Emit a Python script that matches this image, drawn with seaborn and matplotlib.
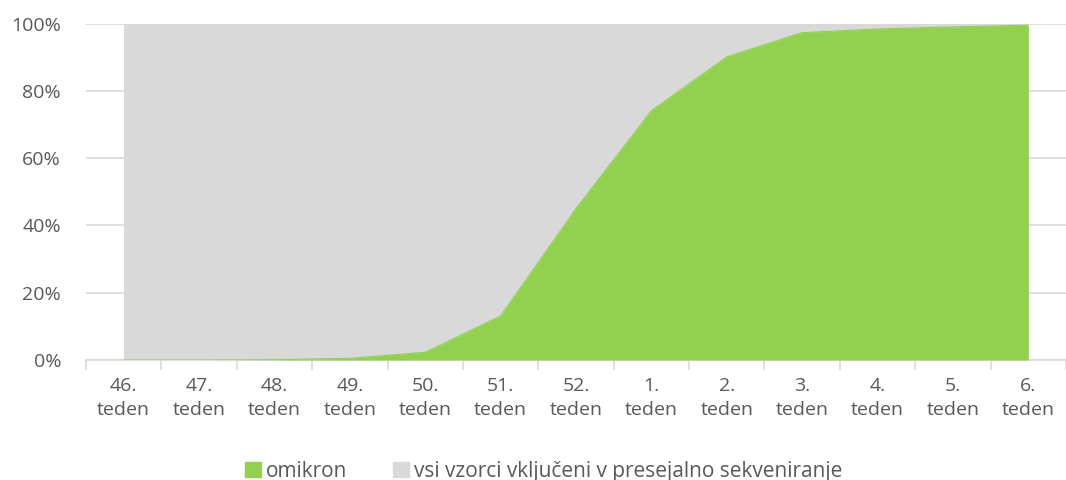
import numpy as np
import pandas as pd
import seaborn as sns
import matplotlib.pyplot as plt
from matplotlib.patches import Patch
from matplotlib.ticker import FixedLocator, PercentFormatter

weeks = ["46.", "47.", "48.", "49.", "50.", "51.", "52.", "1.", "2.", "3.", "4.", "5.", "6."]
omikron = [0.0, 0.0, 0.1, 0.5, 2.3, 13.1, 45.0, 74.1, 90.1, 97.3, 98.4, 99.0, 99.5]
vsi_vzorci = [100] * 13

df = pd.DataFrame({"pos": np.arange(len(weeks)), "omikron": omikron, "vsi": vsi_vzorci})

sns.set_theme(style="white")
plt.rcParams["font.family"] = ["Open Sans", "DejaVu Sans"]

green = "#92D050"
grey = "#D9D9D9"
txt = "#595959"

fig = plt.figure(figsize=(10.66, 4.8), dpi=100)
ax = fig.add_axes([0.0807, 0.25, 0.9193, 0.701])

ax.fill_between(df["pos"], 0, df["vsi"], color=grey, lw=0, zorder=2)
ax.fill_between(df["pos"], 0, df["omikron"], color=green, lw=0, zorder=3)
sns.lineplot(data=df, x="pos", y="omikron", color=green, lw=0.8, ax=ax, zorder=3)

ax.set_xlim(-0.5, 12.36)
ax.set_ylim(0, 100)
ax.yaxis.set_major_locator(FixedLocator([0, 20, 40, 60, 80, 100]))
ax.yaxis.set_major_formatter(PercentFormatter(decimals=0))
ax.grid(axis="y", color=grey, lw=1.2, zorder=0)
ax.set_axisbelow(True)

ax.set_xticks(df["pos"])
ax.set_xticklabels([w + "\nteden" for w in weeks], linespacing=1.45)
ax.set_xticks(np.arange(-0.5, 13, 1), minor=True)
ax.tick_params(axis="x", which="major", length=0, pad=12, labelsize=14, labelcolor=txt)
ax.tick_params(axis="x", which="minor", direction="out", length=7, width=1.2, color=grey, bottom=True)
ax.tick_params(axis="y", length=0, pad=18, labelsize=14, labelcolor=txt)

for s in ["top", "right", "left"]:
    ax.spines[s].set_visible(False)
ax.spines["bottom"].set_color(grey)
ax.spines["bottom"].set_linewidth(1.2)
ax.set_xlabel("")
ax.set_ylabel("")

handles = [Patch(color=green, label="omikron"),
           Patch(color=grey, label="vsi vzorci vključeni v presejalno sekveniranje")]
fig.legend(handles=handles, loc="center", bbox_to_anchor=(0.51, 0.018), ncol=2, frameon=False,
           fontsize=15, labelcolor=txt, handlelength=0.75, handleheight=0.75, handletextpad=0.25,
           columnspacing=2.2)

fig.savefig("out.png", dpi=100)
